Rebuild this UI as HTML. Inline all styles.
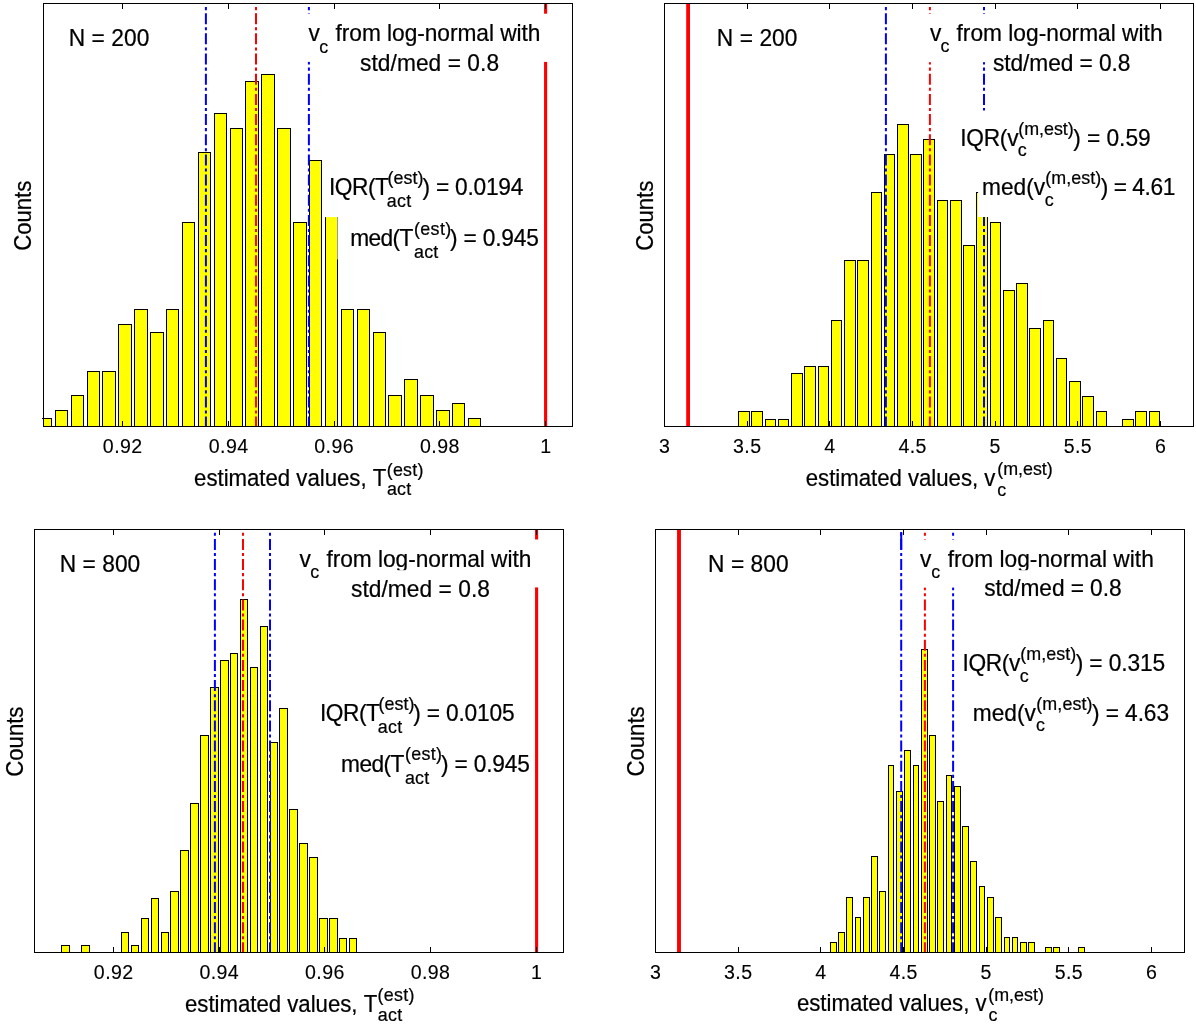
<!DOCTYPE html>
<html lang="en"><head><meta charset="utf-8"><title>Histograms of estimated values</title>
<style>html,body{margin:0;padding:0;background:#fff;}svg{display:block;}text{white-space:pre;font-family:"Liberation Sans", Arial, Helvetica, sans-serif;font-kerning:none;fill:#000;stroke:#000;}</style>
</head><body>
<svg width="1196" height="1027" viewBox="0 0 1196 1027">
<rect x="0" y="0" width="1196" height="1027" fill="#fff"/>
<g id="p1">
<clipPath id="clip-p1"><rect x="43" y="3.5" width="529.5" height="423"/></clipPath>
<g clip-path="url(#clip-p1)">
<g fill="#ffff00" stroke="#000" stroke-width="1" shape-rendering="crispEdges">
<rect x="39.5" y="418.5" width="12" height="10"/>
<rect x="55.5" y="410.5" width="12" height="18"/>
<rect x="71.5" y="395.5" width="12" height="33"/>
<rect x="87.5" y="371.5" width="12" height="57"/>
<rect x="102.5" y="371.5" width="13" height="57"/>
<rect x="118.5" y="324.5" width="13" height="104"/>
<rect x="134.5" y="309.5" width="13" height="119"/>
<rect x="150.5" y="332.5" width="13" height="96"/>
<rect x="166.5" y="309.5" width="12" height="119"/>
<rect x="182.5" y="222.5" width="12" height="206"/>
<rect x="198.5" y="152.5" width="12" height="276"/>
<rect x="214.5" y="113.5" width="12" height="315"/>
<rect x="230.5" y="128.5" width="12" height="300"/>
<rect x="245.5" y="81.5" width="13" height="347"/>
<rect x="261.5" y="74.5" width="13" height="354"/>
<rect x="277.5" y="128.5" width="13" height="300"/>
<rect x="293.5" y="222.5" width="13" height="206"/>
<rect x="309.5" y="160.5" width="12" height="268"/>
<rect x="325.5" y="215.5" width="12" height="213"/>
<rect x="341.5" y="309.5" width="12" height="119"/>
<rect x="357.5" y="309.5" width="12" height="119"/>
<rect x="373.5" y="332.5" width="12" height="96"/>
<rect x="388.5" y="395.5" width="13" height="33"/>
<rect x="404.5" y="379.5" width="13" height="49"/>
<rect x="420.5" y="395.5" width="13" height="33"/>
<rect x="436.5" y="410.5" width="13" height="18"/>
<rect x="452.5" y="403.5" width="12" height="25"/>
<rect x="468.5" y="418.5" width="12" height="10"/>
</g>
<line x1="205.9" y1="426.5" x2="205.9" y2="5" stroke="#0000ff" stroke-width="2" stroke-dasharray="11 3.05 3.07 3.05" stroke-dashoffset="1.1"/>
<line x1="256" y1="426.5" x2="256" y2="5" stroke="#ff0000" stroke-width="2" stroke-dasharray="11 3.05 3.07 3.05" stroke-dashoffset="1.1"/>
<line x1="308.9" y1="426.5" x2="308.9" y2="5" stroke="#0000ff" stroke-width="2" stroke-dasharray="11 3.05 3.07 3.05" stroke-dashoffset="1.1"/>
<line x1="545.6" y1="426.5" x2="545.6" y2="3.5" stroke="#ff0000" stroke-width="3.1"/>
<rect x="306" y="13.7" width="244" height="48.2" fill="#fff"/>
<rect x="323.5" y="170" width="218.5" height="47.1" fill="#fff"/>
<rect x="337.4" y="217.1" width="204.6" height="42.4" fill="#fff"/>
</g>
<rect x="43.5" y="3.5" width="529" height="423" fill="none" stroke="#000" stroke-width="1" shape-rendering="crispEdges"/>
<g stroke="#000" stroke-width="1" shape-rendering="crispEdges">
<line x1="122.6" y1="426.5" x2="122.6" y2="421"/>
<line x1="122.6" y1="3.5" x2="122.6" y2="9"/>
<line x1="228.5" y1="426.5" x2="228.5" y2="421"/>
<line x1="228.5" y1="3.5" x2="228.5" y2="9"/>
<line x1="334" y1="426.5" x2="334" y2="421"/>
<line x1="334" y1="3.5" x2="334" y2="9"/>
<line x1="439.8" y1="426.5" x2="439.8" y2="421"/>
<line x1="439.8" y1="3.5" x2="439.8" y2="9"/>
<line x1="545.7" y1="426.5" x2="545.7" y2="421"/>
<line x1="545.7" y1="3.5" x2="545.7" y2="9"/>
<line x1="42" y1="418.5" x2="44" y2="418.5"/>
</g>
<g font-size="19.6" stroke-width="0.12" letter-spacing="0.4" text-anchor="middle">
<text transform="translate(122.7 452.7) scale(1 1.07)">0.92</text>
<text transform="translate(228.6 452.7) scale(1 1.07)">0.94</text>
<text transform="translate(334.1 452.7) scale(1 1.07)">0.96</text>
<text transform="translate(439.9 452.7) scale(1 1.07)">0.98</text>
<text transform="translate(545.8 452.7) scale(1 1.07)">1</text>
</g>
<g font-size="22.75" stroke-width="0.22">
<text transform="translate(68.73 45.9) scale(1 1.02)" letter-spacing="0.056">N = 200</text>
<text transform="translate(31.3 250.83) rotate(-90) scale(1 1.04)" font-size="22.2" letter-spacing="-0.023">Counts</text>
<text transform="translate(308.62 41) scale(1 1.02)">v</text>
<text transform="translate(319.24 52.5) scale(1 1.02)" font-size="17.9">c</text>
<text transform="translate(335.58 41) scale(1 1.02)" letter-spacing="-0.057">from log-normal with</text>

<text transform="translate(360.07 70.9) scale(1 1.02)" letter-spacing="0.045">std/med = 0.8</text>
<text transform="translate(329 195.4) scale(1 1.02)" letter-spacing="-0.474">IQR(T</text>
<text transform="translate(387.59 184) scale(1 1.02)" font-size="17.9" letter-spacing="0.055">(est)</text>
<text transform="translate(386.74 207.3) scale(1 1.02)" font-size="17.9" letter-spacing="0.306">act</text>
<text transform="translate(422.47 195.4) scale(1 1.02)" letter-spacing="-0.232">) = 0.0194</text>
<text transform="translate(350.19 245.9) scale(1 1.02)" letter-spacing="-0.624">med(T</text>
<text transform="translate(413.99 234.5) scale(1 1.02)" font-size="17.9" letter-spacing="0.355">(est)</text>
<text transform="translate(414.04 257.8) scale(1 1.02)" font-size="17.9" letter-spacing="0.156">act</text>
<text transform="translate(450.07 245.9) scale(1 1.02)" letter-spacing="-0.193">) = 0.945</text>
<text transform="translate(194.06 485.6) scale(1 1.04)" font-size="22.2" letter-spacing="-0.002">estimated values, T</text>
<text transform="translate(386.69 475.5) scale(1 1.02)" font-size="17.9" letter-spacing="0.255">(est)</text>
<text transform="translate(386.94 495.4) scale(1 1.02)" font-size="17.9" letter-spacing="0.206">act</text>
</g>
</g>
<g id="p2">
<clipPath id="clip-p2"><rect x="664" y="3.5" width="529.5" height="423"/></clipPath>
<g clip-path="url(#clip-p2)">
<g fill="#ffff00" stroke="#000" stroke-width="1" shape-rendering="crispEdges">
<rect x="738.5" y="411.5" width="11" height="17"/>
<rect x="751.5" y="411.5" width="11" height="17"/>
<rect x="765.5" y="419.5" width="10" height="9"/>
<rect x="778.5" y="419.5" width="10" height="9"/>
<rect x="791.5" y="373.5" width="11" height="55"/>
<rect x="804.5" y="366.5" width="11" height="62"/>
<rect x="818.5" y="366.5" width="10" height="62"/>
<rect x="831.5" y="320.5" width="10" height="108"/>
<rect x="844.5" y="260.5" width="11" height="168"/>
<rect x="857.5" y="260.5" width="11" height="168"/>
<rect x="871.5" y="192.5" width="10" height="236"/>
<rect x="884.5" y="154.5" width="10" height="274"/>
<rect x="897.5" y="124.5" width="11" height="304"/>
<rect x="910.5" y="154.5" width="11" height="274"/>
<rect x="923.5" y="139.5" width="11" height="289"/>
<rect x="937.5" y="200.5" width="10" height="228"/>
<rect x="950.5" y="200.5" width="11" height="228"/>
<rect x="963.5" y="245.5" width="11" height="183"/>
<rect x="976.5" y="192.5" width="11" height="236"/>
<rect x="990.5" y="222.5" width="10" height="206"/>
<rect x="1003.5" y="290.5" width="11" height="138"/>
<rect x="1016.5" y="283.5" width="11" height="145"/>
<rect x="1029.5" y="328.5" width="11" height="100"/>
<rect x="1043.5" y="320.5" width="10" height="108"/>
<rect x="1056.5" y="358.5" width="10" height="70"/>
<rect x="1069.5" y="381.5" width="11" height="47"/>
<rect x="1082.5" y="396.5" width="11" height="32"/>
<rect x="1096.5" y="411.5" width="10" height="17"/>
<rect x="1122.5" y="419.5" width="11" height="9"/>
<rect x="1135.5" y="411.5" width="11" height="17"/>
<rect x="1149.5" y="411.5" width="10" height="17"/>
</g>
<line x1="885.9" y1="426.5" x2="885.9" y2="5" stroke="#0000ff" stroke-width="2" stroke-dasharray="11 3.05 3.07 3.05" stroke-dashoffset="1.1"/>
<line x1="929.9" y1="426.5" x2="929.9" y2="5" stroke="#ff0000" stroke-width="2" stroke-dasharray="11 3.05 3.07 3.05" stroke-dashoffset="1.1"/>
<line x1="984" y1="426.5" x2="984" y2="5" stroke="#0000ff" stroke-width="2" stroke-dasharray="11 3.05 3.07 3.05" stroke-dashoffset="1.1"/>
<line x1="688.1" y1="426.5" x2="688.1" y2="3.5" stroke="#ff0000" stroke-width="3.8"/>
<rect x="927" y="13.8" width="243" height="48.4" fill="#fff"/>
<rect x="955" y="110.5" width="205" height="55.5" fill="#fff"/>
<rect x="978.1" y="166" width="206.9" height="51" fill="#fff"/>
</g>
<rect x="664.5" y="3.5" width="529" height="423" fill="none" stroke="#000" stroke-width="1" shape-rendering="crispEdges"/>
<g stroke="#000" stroke-width="1" shape-rendering="crispEdges">
<line x1="664.5" y1="426.5" x2="664.5" y2="421"/>
<line x1="664.5" y1="3.5" x2="664.5" y2="9"/>
<line x1="747.16" y1="426.5" x2="747.16" y2="421"/>
<line x1="747.16" y1="3.5" x2="747.16" y2="9"/>
<line x1="829.83" y1="426.5" x2="829.83" y2="421"/>
<line x1="829.83" y1="3.5" x2="829.83" y2="9"/>
<line x1="912.5" y1="426.5" x2="912.5" y2="421"/>
<line x1="912.5" y1="3.5" x2="912.5" y2="9"/>
<line x1="995.16" y1="426.5" x2="995.16" y2="421"/>
<line x1="995.16" y1="3.5" x2="995.16" y2="9"/>
<line x1="1077.83" y1="426.5" x2="1077.83" y2="421"/>
<line x1="1077.83" y1="3.5" x2="1077.83" y2="9"/>
<line x1="1160.49" y1="426.5" x2="1160.49" y2="421"/>
<line x1="1160.49" y1="3.5" x2="1160.49" y2="9"/>
</g>
<g font-size="19.6" stroke-width="0.12" letter-spacing="0.4" text-anchor="middle">
<text transform="translate(664.6 452.7) scale(1 1.07)">3</text>
<text transform="translate(747.26 452.7) scale(1 1.07)">3.5</text>
<text transform="translate(829.93 452.7) scale(1 1.07)">4</text>
<text transform="translate(912.6 452.7) scale(1 1.07)">4.5</text>
<text transform="translate(995.26 452.7) scale(1 1.07)">5</text>
<text transform="translate(1077.92 452.7) scale(1 1.07)">5.5</text>
<text transform="translate(1160.59 452.7) scale(1 1.07)">6</text>
</g>
<g font-size="22.75" stroke-width="0.22">
<text transform="translate(716.83 45.9) scale(1 1.02)" letter-spacing="0.056">N = 200</text>
<text transform="translate(652.7 250.83) rotate(-90) scale(1 1.04)" font-size="22.2" letter-spacing="-0.023">Counts</text>
<text transform="translate(930.12 40.9) scale(1 1.02)">v</text>
<text transform="translate(940.54 52.3) scale(1 1.02)" font-size="17.9">c</text>
<text transform="translate(956.48 40.9) scale(1 1.02)" letter-spacing="0.006">from log-normal with</text>
<text transform="translate(992.97 70.7) scale(1 1.02)" letter-spacing="-0.088">std/med = 0.8</text>
<text transform="translate(960.2 145.6) scale(1 1.02)" letter-spacing="-0.255">IQR(v</text>
<text transform="translate(1018.29 134.6) scale(1 1.02)" font-size="17.9" letter-spacing="-0.027">(m,est)</text>
<text transform="translate(1017.74 156.2) scale(1 1.02)" font-size="17.9">c</text>
<text transform="translate(1073.17 145.6) scale(1 1.02)" letter-spacing="-0.039">) = 0.59</text>
<text transform="translate(981.99 194.6) scale(1 1.02)" letter-spacing="-0.030">med(v</text>
<text transform="translate(1045.19 184) scale(1 1.02)" font-size="17.9" letter-spacing="0.073">(m,est)</text>
<text transform="translate(1044.64 205.6) scale(1 1.02)" font-size="17.9">c</text>
<text transform="translate(1100.67 194.6) scale(1 1.02)" letter-spacing="-0.448">) = 4.61</text>
<text transform="translate(805.76 485.6) scale(1 1.04)" font-size="22.2" letter-spacing="-0.012">estimated values, v</text>
<text transform="translate(997.19 475.1) scale(1 1.02)" font-size="17.9" letter-spacing="-0.011">(m,est)</text>
<text transform="translate(997.14 496.1) scale(1 1.02)" font-size="17.9">c</text>
</g>
</g>
<g id="p3">
<clipPath id="clip-p3"><rect x="34" y="529.5" width="529.5" height="423"/></clipPath>
<g clip-path="url(#clip-p3)">
<g fill="#ffff00" stroke="#000" stroke-width="1" shape-rendering="crispEdges">
<rect x="61.5" y="945.5" width="8" height="9"/>
<rect x="81.5" y="945.5" width="8" height="9"/>
<rect x="121.5" y="932.5" width="7" height="22"/>
<rect x="131.5" y="945.5" width="7" height="9"/>
<rect x="141.5" y="918.5" width="7" height="36"/>
<rect x="151.5" y="898.5" width="7" height="56"/>
<rect x="161.5" y="932.5" width="7" height="22"/>
<rect x="170.5" y="891.5" width="8" height="63"/>
<rect x="180.5" y="850.5" width="8" height="104"/>
<rect x="190.5" y="803.5" width="8" height="151"/>
<rect x="200.5" y="735.5" width="8" height="219"/>
<rect x="210.5" y="687.5" width="8" height="267"/>
<rect x="220.5" y="660.5" width="8" height="294"/>
<rect x="230.5" y="653.5" width="7" height="301"/>
<rect x="240.5" y="599.5" width="7" height="355"/>
<rect x="250.5" y="667.5" width="7" height="287"/>
<rect x="260.5" y="626.5" width="7" height="328"/>
<rect x="270.5" y="742.5" width="7" height="212"/>
<rect x="279.5" y="708.5" width="8" height="246"/>
<rect x="289.5" y="809.5" width="8" height="145"/>
<rect x="299.5" y="843.5" width="8" height="111"/>
<rect x="309.5" y="857.5" width="8" height="97"/>
<rect x="319.5" y="918.5" width="8" height="36"/>
<rect x="329.5" y="918.5" width="8" height="36"/>
<rect x="339.5" y="938.5" width="7" height="16"/>
<rect x="349.5" y="938.5" width="7" height="16"/>
</g>
<line x1="214.9" y1="952.5" x2="214.9" y2="531.9" stroke="#0000ff" stroke-width="2" stroke-dasharray="11 3.05 3.07 3.05" stroke-dashoffset="0.8"/>
<line x1="243" y1="952.5" x2="243" y2="531.9" stroke="#ff0000" stroke-width="2" stroke-dasharray="11 3.05 3.07 3.05" stroke-dashoffset="0.8"/>
<line x1="270" y1="952.5" x2="270" y2="531.9" stroke="#0000ff" stroke-width="2" stroke-dasharray="11 3.05 3.07 3.05" stroke-dashoffset="0.8"/>
<line x1="536.6" y1="952.5" x2="536.6" y2="529.5" stroke="#ff0000" stroke-width="3.1"/>
<rect x="297" y="539.5" width="244" height="47.9" fill="#fff"/>
</g>
<rect x="34.5" y="529.5" width="529" height="423" fill="none" stroke="#000" stroke-width="1" shape-rendering="crispEdges"/>
<g stroke="#000" stroke-width="1" shape-rendering="crispEdges">
<line x1="113.6" y1="952.5" x2="113.6" y2="947"/>
<line x1="113.6" y1="529.5" x2="113.6" y2="535"/>
<line x1="219.2" y1="952.5" x2="219.2" y2="947"/>
<line x1="219.2" y1="529.5" x2="219.2" y2="535"/>
<line x1="324.8" y1="952.5" x2="324.8" y2="947"/>
<line x1="324.8" y1="529.5" x2="324.8" y2="535"/>
<line x1="430.4" y1="952.5" x2="430.4" y2="947"/>
<line x1="430.4" y1="529.5" x2="430.4" y2="535"/>
<line x1="536.6" y1="952.5" x2="536.6" y2="947"/>
<line x1="536.6" y1="529.5" x2="536.6" y2="535"/>
</g>
<g font-size="19.6" stroke-width="0.12" letter-spacing="0.4" text-anchor="middle">
<text transform="translate(113.7 978.7) scale(1 1.07)">0.92</text>
<text transform="translate(219.3 978.7) scale(1 1.07)">0.94</text>
<text transform="translate(324.9 978.7) scale(1 1.07)">0.96</text>
<text transform="translate(430.5 978.7) scale(1 1.07)">0.98</text>
<text transform="translate(536.7 978.7) scale(1 1.07)">1</text>
</g>
<g font-size="22.75" stroke-width="0.22">
<text transform="translate(59.63 571.8) scale(1 1.02)" letter-spacing="0.056">N = 800</text>
<text transform="translate(23.4 776.73) rotate(-90) scale(1 1.04)" font-size="22.2" letter-spacing="-0.023">Counts</text>
<text transform="translate(299.52 566.9) scale(1 1.02)">v</text>
<text transform="translate(310.14 578.4) scale(1 1.02)" font-size="17.9">c</text>
<text transform="translate(326.48 566.9) scale(1 1.02)" letter-spacing="-0.057">from log-normal with</text>
<rect x="346" y="570.2" width="150" height="3" fill="#fff" stroke="none"/>
<text transform="translate(350.97 596.8) scale(1 1.02)" letter-spacing="0.045">std/med = 0.8</text>
<text transform="translate(319.9 721.3) scale(1 1.02)" letter-spacing="-0.474">IQR(T</text>
<text transform="translate(378.49 709.9) scale(1 1.02)" font-size="17.9" letter-spacing="0.055">(est)</text>
<text transform="translate(377.64 733.2) scale(1 1.02)" font-size="17.9" letter-spacing="0.306">act</text>
<text transform="translate(413.37 721.3) scale(1 1.02)" letter-spacing="-0.200">) = 0.0105</text>
<text transform="translate(341.09 771.8) scale(1 1.02)" letter-spacing="-0.624">med(T</text>
<text transform="translate(404.89 760.4) scale(1 1.02)" font-size="17.9" letter-spacing="0.355">(est)</text>
<text transform="translate(404.94 783.7) scale(1 1.02)" font-size="17.9" letter-spacing="0.156">act</text>
<text transform="translate(440.97 771.8) scale(1 1.02)" letter-spacing="-0.193">) = 0.945</text>
<text transform="translate(184.96 1011.5) scale(1 1.04)" font-size="22.2" letter-spacing="-0.002">estimated values, T</text>
<text transform="translate(377.59 1001.4) scale(1 1.02)" font-size="17.9" letter-spacing="0.255">(est)</text>
<text transform="translate(377.84 1021.3) scale(1 1.02)" font-size="17.9" letter-spacing="0.206">act</text>
</g>
</g>
<g id="p4">
<clipPath id="clip-p4"><rect x="655" y="529.5" width="529.5" height="423"/></clipPath>
<g clip-path="url(#clip-p4)">
<g fill="#ffff00" stroke="#000" stroke-width="1" shape-rendering="crispEdges">
<rect x="830.5" y="942.5" width="6" height="12"/>
<rect x="838.5" y="932.5" width="6" height="22"/>
<rect x="846.5" y="897.5" width="6" height="57"/>
<rect x="855.5" y="917.5" width="5" height="37"/>
<rect x="863.5" y="897.5" width="6" height="57"/>
<rect x="871.5" y="856.5" width="6" height="98"/>
<rect x="879.5" y="891.5" width="6" height="63"/>
<rect x="888.5" y="765.5" width="5" height="189"/>
<rect x="896.5" y="791.5" width="6" height="163"/>
<rect x="904.5" y="750.5" width="6" height="204"/>
<rect x="913.5" y="765.5" width="5" height="189"/>
<rect x="921.5" y="649.5" width="6" height="305"/>
<rect x="929.5" y="735.5" width="6" height="219"/>
<rect x="937.5" y="801.5" width="6" height="153"/>
<rect x="946.5" y="775.5" width="5" height="179"/>
<rect x="954.5" y="786.5" width="6" height="168"/>
<rect x="962.5" y="826.5" width="6" height="128"/>
<rect x="970.5" y="861.5" width="6" height="93"/>
<rect x="979.5" y="886.5" width="5" height="68"/>
<rect x="987.5" y="897.5" width="6" height="57"/>
<rect x="995.5" y="917.5" width="6" height="37"/>
<rect x="1004.5" y="937.5" width="5" height="17"/>
<rect x="1012.5" y="937.5" width="5" height="17"/>
<rect x="1020.5" y="942.5" width="6" height="12"/>
<rect x="1028.5" y="942.5" width="6" height="12"/>
<rect x="1045.5" y="947.5" width="6" height="7"/>
<rect x="1053.5" y="947.5" width="6" height="7"/>
<rect x="1078.5" y="947.5" width="6" height="7"/>
</g>
<line x1="901.2" y1="952.5" x2="901.2" y2="531.9" stroke="#0000ff" stroke-width="2" stroke-dasharray="11 3.05 3.07 3.05" stroke-dashoffset="0.8"/>
<line x1="924.9" y1="952.5" x2="924.9" y2="531.9" stroke="#ff0000" stroke-width="2" stroke-dasharray="11 3.05 3.07 3.05" stroke-dashoffset="0.8"/>
<line x1="953.1" y1="952.5" x2="953.1" y2="531.9" stroke="#0000ff" stroke-width="2" stroke-dasharray="11 3.05 3.07 3.05" stroke-dashoffset="0.8"/>
<line x1="901.2" y1="531.9" x2="901.2" y2="549.8" stroke="#0000ff" stroke-width="2"/>
<line x1="679" y1="952.5" x2="679" y2="529.5" stroke="#ff0000" stroke-width="3.9"/>
<rect x="918" y="539.5" width="244" height="48.1" fill="#fff"/>
</g>
<rect x="655.5" y="529.5" width="529" height="423" fill="none" stroke="#000" stroke-width="1" shape-rendering="crispEdges"/>
<g stroke="#000" stroke-width="1" shape-rendering="crispEdges">
<line x1="655.5" y1="952.5" x2="655.5" y2="947"/>
<line x1="655.5" y1="529.5" x2="655.5" y2="535"/>
<line x1="738.16" y1="952.5" x2="738.16" y2="947"/>
<line x1="738.16" y1="529.5" x2="738.16" y2="535"/>
<line x1="820.83" y1="952.5" x2="820.83" y2="947"/>
<line x1="820.83" y1="529.5" x2="820.83" y2="535"/>
<line x1="903.5" y1="952.5" x2="903.5" y2="947"/>
<line x1="903.5" y1="529.5" x2="903.5" y2="535"/>
<line x1="986.16" y1="952.5" x2="986.16" y2="947"/>
<line x1="986.16" y1="529.5" x2="986.16" y2="535"/>
<line x1="1068.83" y1="952.5" x2="1068.83" y2="947"/>
<line x1="1068.83" y1="529.5" x2="1068.83" y2="535"/>
<line x1="1151.49" y1="952.5" x2="1151.49" y2="947"/>
<line x1="1151.49" y1="529.5" x2="1151.49" y2="535"/>
</g>
<g font-size="19.6" stroke-width="0.12" letter-spacing="0.4" text-anchor="middle">
<text transform="translate(655.6 978.7) scale(1 1.07)">3</text>
<text transform="translate(738.26 978.7) scale(1 1.07)">3.5</text>
<text transform="translate(820.93 978.7) scale(1 1.07)">4</text>
<text transform="translate(903.6 978.7) scale(1 1.07)">4.5</text>
<text transform="translate(986.26 978.7) scale(1 1.07)">5</text>
<text transform="translate(1068.92 978.7) scale(1 1.07)">5.5</text>
<text transform="translate(1151.59 978.7) scale(1 1.07)">6</text>
</g>
<g font-size="22.75" stroke-width="0.22">
<text transform="translate(708.03 571.8) scale(1 1.02)" letter-spacing="0.056">N = 800</text>
<text transform="translate(643.9 776.53) rotate(-90) scale(1 1.04)" font-size="22.2" letter-spacing="-0.023">Counts</text>
<text transform="translate(920.02 566.5) scale(1 1.02)">v</text>
<text transform="translate(931.24 578) scale(1 1.02)" font-size="17.9">c</text>
<text transform="translate(947.68 566.5) scale(1 1.02)" letter-spacing="0.006">from log-normal with</text>
<rect x="979" y="570.2" width="150" height="3" fill="#fff" stroke="none"/>
<text transform="translate(984.17 596.3) scale(1 1.02)" letter-spacing="-0.088">std/med = 0.8</text>
<text transform="translate(962.5 670.6) scale(1 1.02)" letter-spacing="-0.355">IQR(v</text>
<text transform="translate(1020.19 660) scale(1 1.02)" font-size="17.9" letter-spacing="0.073">(m,est)</text>
<text transform="translate(1019.64 681.7) scale(1 1.02)" font-size="17.9">c</text>
<text transform="translate(1075.67 670.6) scale(1 1.02)" letter-spacing="-0.118">) = 0.315</text>
<text transform="translate(972.69 720.6) scale(1 1.02)" letter-spacing="-0.005">med(v</text>
<text transform="translate(1036.19 709.6) scale(1 1.02)" font-size="17.9" letter-spacing="0.123">(m,est)</text>
<text transform="translate(1035.94 731.2) scale(1 1.02)" font-size="17.9">c</text>
<text transform="translate(1091.97 720.6) scale(1 1.02)" letter-spacing="-0.093">) = 4.63</text>
<text transform="translate(796.96 1011.2) scale(1 1.04)" font-size="22.2" letter-spacing="-0.012">estimated values, v</text>
<text transform="translate(988.29 1000.6) scale(1 1.02)" font-size="17.9" letter-spacing="-0.011">(m,est)</text>
<text transform="translate(988.44 1021.2) scale(1 1.02)" font-size="17.9">c</text>
</g>
</g>
</svg>
</body></html>
